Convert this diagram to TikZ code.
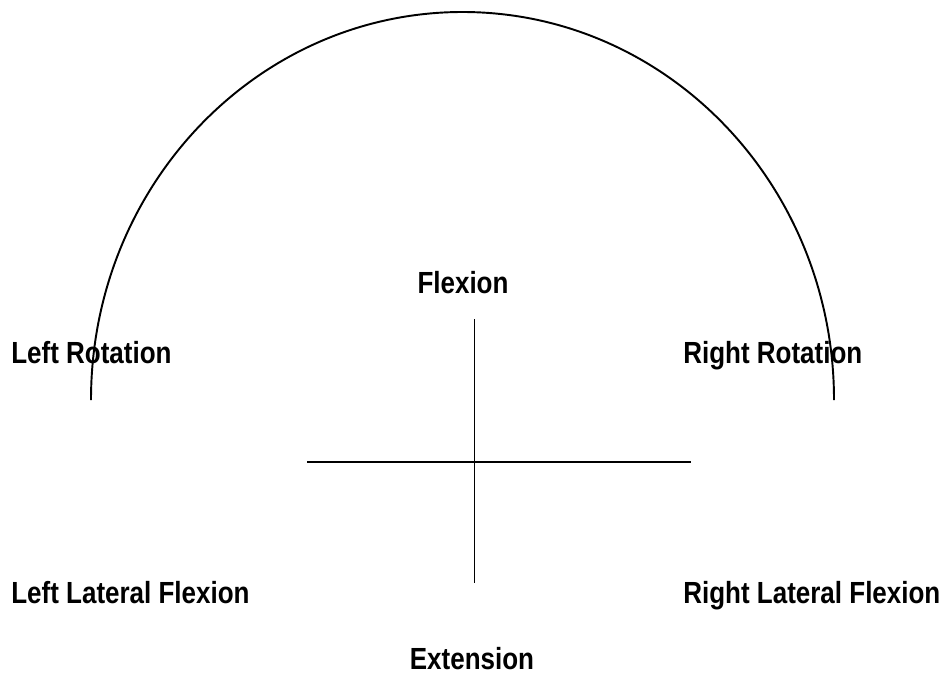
\documentclass[tikz,border=0pt]{standalone}
\usepackage{fontspec}
\setmainfont[FakeStretch=0.85]{Liberation Sans}
\usepackage{tikz}
\usetikzlibrary{positioning}

\begin{document}
\begin{tikzpicture}[
                x=0.02cm, y=-0.02cm,
                every node/.style={inner sep=0pt},
                motion/.style={font=\fontsize{17.4}{20}\selectfont\bfseries, text=black},
                axis_line/.style={black, line width=1.1pt}
            ]
                \useasboundingbox (0,0) rectangle (946,676);

                % Range arc (rotation)
                \draw[axis_line] (91,400) arc[start angle=180, end angle=360, x radius=371.5, y radius=388];

                % Cross axes
                \coordinate (h_left) at (307,462);
                \coordinate (h_right) at (691,462);
                \coordinate (v_top) at (474.5,319);
                \coordinate (v_bottom) at (474.5,583);
                \draw[axis_line] (h_left) -- (h_right);
                \draw[axis_line] (v_top) -- (v_bottom);

                % Labels
                \node[motion, anchor=base] (flex) at (463,293) {Flexion};
                \node[motion, anchor=base] (ext) at (472,669) {Extension};
                \node[motion, anchor=base west] (lrot) at (11,363) {Left Rotation};
                \node[motion, anchor=base west] (rrot) at (683,363) {Right Rotation};
                \node[motion, anchor=base west] (llat) at (11,603) {Left Lateral Flexion};
                \node[motion, anchor=base west] (rlat) at (683,603) {Right Lateral Flexion};
            \end{tikzpicture}
\end{document}
